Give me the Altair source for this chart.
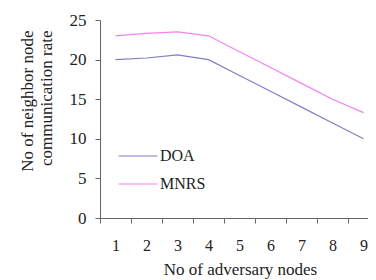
import altair as alt
import pandas as pd

nodes = [1, 2, 3, 4, 5, 6, 7, 8, 9]
doa = [20.0, 20.2, 20.6, 20.0, 18.0, 16.0, 14.0, 12.0, 10.0]
mnrs = [23.0, 23.3, 23.5, 23.0, 21.0, 19.0, 17.0, 15.0, 13.3]
series = ["DOA", "MNRS"]
colors = ["#7f7fc4", "#f283f2"]

rows = []
for n, d, m in zip(nodes, doa, mnrs):
    rows.append({"nodes": n, "value": d, "series": "DOA"})
    rows.append({"nodes": n, "value": m, "series": "MNRS"})
df = pd.DataFrame(rows)

font = "Liberation Serif"

chart = alt.Chart(df).mark_line(strokeWidth=1.2).encode(
    x=alt.X("nodes:O",
            scale=alt.Scale(type="band", paddingInner=0, paddingOuter=0, range=[0, 279]),
            bandPosition=0.5,
            axis=alt.Axis(title="No of adversary nodes", labelAngle=0, tickBand="extent",
                          labelPadding=14, tickSize=5, titlePadding=8, labelFontSize=16,
                          titleX=140, titleAnchor="middle")),
    y=alt.Y("value:Q", scale=alt.Scale(domain=[0, 25]),
            axis=alt.Axis(title=["No of neighbor node", "communication rate"], values=[0, 5, 10, 15, 20, 25],
                          tickSize=5, labelPadding=9, grid=False, labelFontSize=17,
                          titleX=-81, titleY=10, titleAlign="right", titleBaseline="top",
                          titleAngle=270, titleLineHeight=19)),
    color=alt.Color("series:N", scale=alt.Scale(domain=series, range=colors),
                    legend=alt.Legend(title=None, orient="none", legendX=18, legendY=116,
                                      symbolType="stroke", symbolSize=1500, symbolStrokeWidth=1.2,
                                      labelFontSize=16, labelFont=font, labelColor="#222",
                                      rowPadding=-17, labelOffset=2)),
).properties(
    width=268, height=198,
    background="white",
    autosize=alt.AutoSizeParams(type="none"),
    padding={"left": 92, "top": 12, "right": 0, "bottom": 66},
).configure_view(stroke=None).configure_axis(
    labelFont=font, titleFont=font, titleFontSize=17,
    titleFontWeight="normal", labelColor="#222", titleColor="#222",
    domainColor="#666", tickColor="#666",
)

chart.save("out.html", embed_options={"renderer": "svg", "actions": False})
